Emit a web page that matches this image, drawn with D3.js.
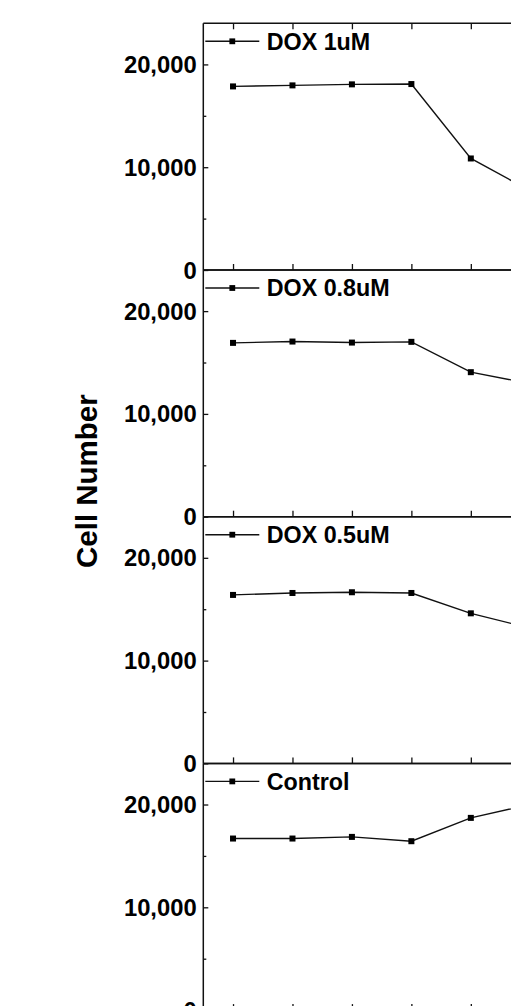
<!DOCTYPE html>
<html>
<head>
<meta charset="utf-8">
<script src="https://cdn.jsdelivr.net/npm/d3@7"></script>
<style>
  html, body { margin: 0; padding: 0; background: #fff; overflow: hidden; }
  svg { display: block; }
  text { font-family: "Liberation Sans", Arial, sans-serif; font-weight: bold; fill: #000; }
</style>
</head>
<body>
<div id="chart"></div>
<script>
// ---- data ----
const days = [1, 2, 3, 4, 5, 6];
const seriesNames = ["DOX 1uM", "DOX 0.8uM", "DOX 0.5uM", "Control"];
const dox1 = [17860, 17960, 18060, 18090, 10850, 7700];
const dox08 = [16910, 17040, 16940, 17010, 14060, 12950];
const dox05 = [16390, 16580, 16650, 16580, 14600, 13150];
const control = [16690, 16690, 16850, 16430, 18700, 20000];
const seriesValues = [dox1, dox08, dox05, control];
const yTickValues = [0, 10000, 20000];
const yMinorValues = [5000, 15000];
const yAxisTitle = "Cell Number";

// ---- layout ----
const W = 511, H = 1006;
const left = 203.3;
const top0 = 23.3;
const panelH = 246.7;
const step = 59.45;
const right = left + 6 * step;

const svg = d3.select("#chart").append("svg")
  .attr("width", W).attr("height", H);

const x = d3.scaleLinear().domain([0.5, 6.5]).range([left, right]);
const fmt = d3.format(",");
const ink = "#111";

seriesNames.forEach((name, i) => {
  const t = top0 + i * panelH;
  const b = t + panelH;
  const y = d3.scaleLinear().domain([0, 24000]).range([b, t]);
  const g = svg.append("g");

  // left axis major (inward ticks)
  const ay = g.append("g").attr("transform", `translate(${left},0)`)
    .call(d3.axisRight(y).tickValues(yTickValues).tickSize(5).tickFormat(""));
  ay.select(".domain").remove();
  ay.selectAll("line").attr("stroke", ink).attr("stroke-width", 1.3);
  const ayMinor = g.append("g").attr("transform", `translate(${left},0)`)
    .call(d3.axisRight(y).tickValues(yMinorValues).tickSize(3).tickFormat(""));
  ayMinor.select(".domain").remove();
  ayMinor.selectAll("line").attr("stroke", ink).attr("stroke-width", 1.3);

  // y tick labels
  g.selectAll(".ylab").data(yTickValues).enter().append("text")
    .attr("x", 196.7).attr("y", d => y(d)).attr("dy", "0.36em")
    .attr("text-anchor", "end").attr("font-size", 23.8)
    .text(d => fmt(d));

  // bottom axis (inward ticks pointing up)
  const ab = g.append("g").attr("transform", `translate(0,${b})`)
    .call(d3.axisTop(x).tickValues(days).tickSize(6).tickFormat(""));
  ab.select(".domain").remove();
  ab.selectAll("line").attr("stroke", ink).attr("stroke-width", 1.3);

  // top ticks only for first panel (inward, down)
  if (i === 0) {
    const at = g.append("g").attr("transform", `translate(0,${t})`)
      .call(d3.axisBottom(x).tickValues(days).tickSize(6).tickFormat(""));
    at.select(".domain").remove();
    at.selectAll("line").attr("stroke", ink).attr("stroke-width", 1.3);
  }

  // frame lines: left, top, bottom
  g.append("line").attr("x1", left).attr("x2", left).attr("y1", t).attr("y2", b)
    .attr("stroke", ink).attr("stroke-width", 1.5);
  g.append("line").attr("x1", left).attr("x2", W + 50).attr("y1", t).attr("y2", t)
    .attr("stroke", ink).attr("stroke-width", 1.5);
  g.append("line").attr("x1", left).attr("x2", W + 50).attr("y1", b).attr("y2", b)
    .attr("stroke", ink).attr("stroke-width", 1.5);

  // series
  const vals = seriesValues[i];
  const pts = days.map((d, k) => [d, vals[k]]);
  const line = d3.line().x(d => x(d[0])).y(d => y(d[1]));
  g.append("path").datum(pts).attr("d", line)
    .attr("fill", "none").attr("stroke", ink).attr("stroke-width", 1.4);
  const ms = 6;
  g.selectAll(".pt").data(pts).enter().append("rect")
    .attr("x", d => x(d[0]) - ms / 2).attr("y", d => y(d[1]) - ms / 2)
    .attr("width", ms).attr("height", ms).attr("fill", "#000");

  // legend
  const ly = t + 18;
  g.append("line").attr("x1", 205.3).attr("x2", 259.3).attr("y1", ly).attr("y2", ly)
    .attr("stroke", ink).attr("stroke-width", 1.4);
  g.append("rect").attr("x", 232.3 - 2.9).attr("y", ly - 2.9)
    .attr("width", 5.8).attr("height", 5.8).attr("fill", "#000");
  g.append("text").attr("x", 266.7).attr("y", ly).attr("dy", "0.36em")
    .attr("font-size", 23.3).text(name);
});

// y axis title
svg.append("text")
  .attr("transform", `translate(97,568) rotate(-90)`)
  .attr("text-anchor", "start").attr("font-size", 29.5)
  .text(yAxisTitle);
</script>
</body>
</html>
